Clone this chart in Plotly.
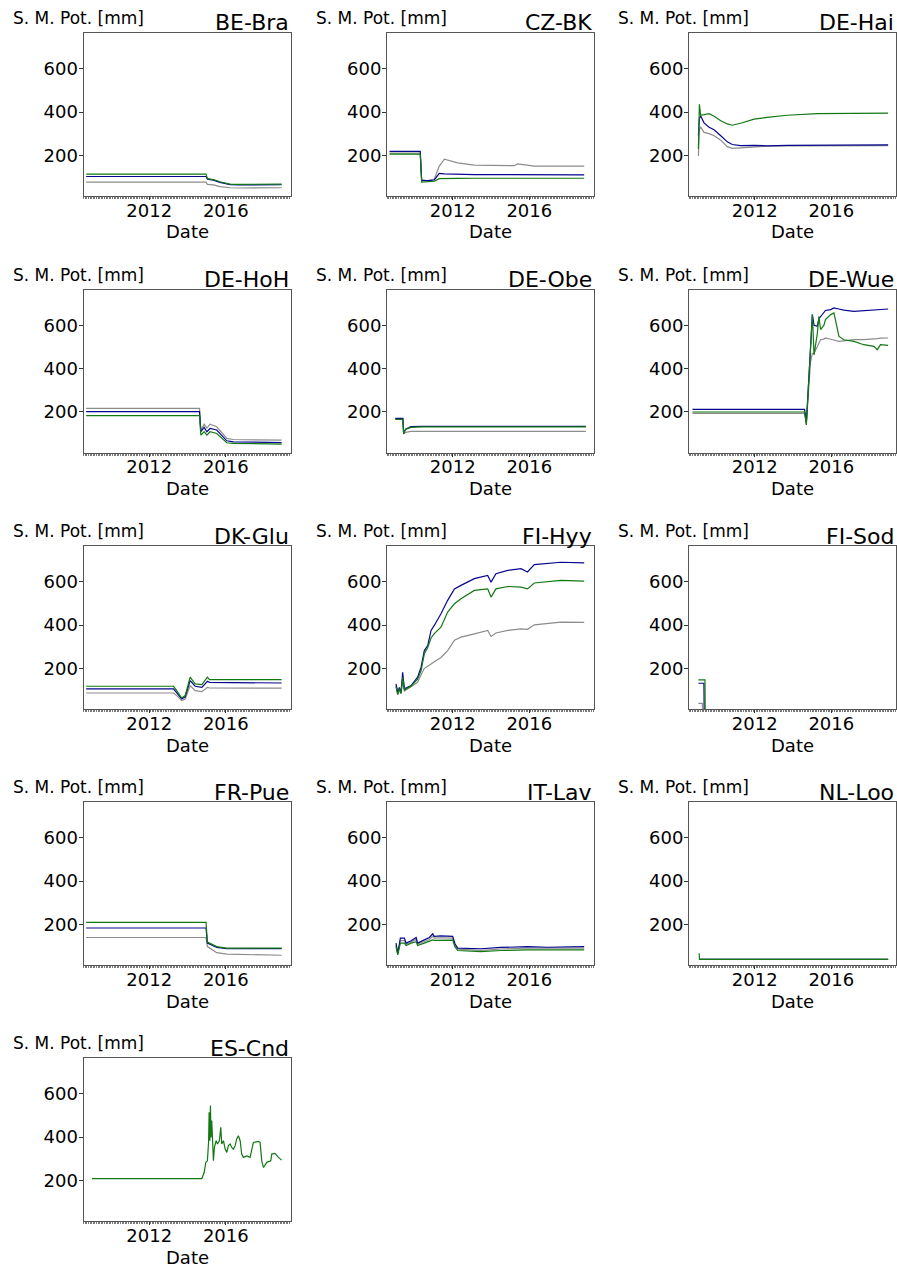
import plotly.graph_objects as go

# ---------------- data ----------------
BE_BRA_DATES = ["2008-09-16", "2014-12-20", "2015-01-15", "2015-05-10", "2015-09-12",
                "2016-03-25", "2016-10-01", "2018-12-01"]
BE_BRA_GREY = [76, 76, 66, 63, 55, 50, 49, 50]
BE_BRA_BLUE = [102, 102, 90, 85, 75, 64, 63, 64]
BE_BRA_GREEN = [113, 113, 92, 88, 78, 67, 66, 67]

CZ_BK_DATES = ["2008-09-13", "2010-04-22", "2010-05-19", "2010-09-12", "2011-01-15",
               "2011-04-20", "2011-07-26", "2012-04-05", "2013-02-17", "2014-07-08",
               "2015-03-22", "2015-05-22", "2015-09-27", "2016-04-05", "2018-11-13"]
CZ_BK_GREY = [210, 210, 88, 82, 90, 150, 182, 165, 155, 152, 152, 160, 155, 150, 150]
CZ_BK_BLUE = [218, 218, 84, 83, 86, 116, 114, 112, 111, 111, 111, 113, 112, 110, 110]
CZ_BK_GREEN = [205, 205, 76, 78, 80, 92, 93, 93, 94, 94, 94, 94, 94, 94, 94]

DE_HAI_DATES = ["2009-01-22", "2009-02-10", "2009-03-07", "2009-05-10", "2009-08-14",
                "2009-11-17", "2010-03-25", "2010-07-27", "2010-10-30", "2011-04-08",
                "2011-12-20", "2012-08-28", "2013-09-12", "2015-04-08", "2018-12-20"]
DE_HAI_GREY = [197, 320, 330, 306, 300, 290, 270, 240, 232, 235, 240, 242, 244, 245, 245]
DE_HAI_BLUE = [290, 370, 382, 350, 330, 318, 290, 262, 250, 245, 246, 244, 246, 247, 248]
DE_HAI_GREEN = [229, 436, 385, 388, 392, 380, 360, 345, 339, 348, 367, 375, 385, 393, 395]

DE_HOH_DATES = ["2008-09-16", "2014-08-18", "2014-09-12", "2014-11-14", "2015-01-05",
                "2015-03-07", "2015-07-12", "2016-01-20", "2016-05-26", "2018-12-01"]
DE_HOH_GREY = [216, 216, 116, 143, 125, 143, 131, 77, 72, 69]
DE_HOH_BLUE = [201, 201, 108, 128, 108, 123, 116, 66, 61, 58]
DE_HOH_GREEN = [182, 182, 92, 108, 92, 108, 100, 57, 54, 51]

DE_OBE_DATES = ["2009-01-01", "2009-05-25", "2009-06-10", "2009-07-15", "2009-10-25",
                "2010-06-01", "2018-12-15"]
DE_OBE_GREY = [168, 168, 100, 105, 110, 110, 110]
DE_OBE_BLUE = [170, 170, 100, 120, 132, 133, 133]
DE_OBE_GREEN = [165, 165, 98, 118, 128, 130, 130]

DE_WUE_DATES = ["2008-10-01", "2014-08-10", "2014-09-12", "2014-10-30", "2014-12-01",
                "2015-01-05", "2015-02-06", "2015-04-08", "2015-05-10", "2015-06-10",
                "2015-08-14", "2015-09-12", "2015-12-20", "2016-02-20", "2016-05-26",
                "2016-08-28", "2017-03-07", "2017-09-12", "2018-03-25", "2018-05-26",
                "2018-07-27", "2018-12-20"]
DE_WUE_GREY = [193, 193, 145, 320, 430, 470, 471, 500, 520, 533, 536, 541, 535, 530,
               525, 528, 533, 533, 535, 538, 540, 541]
DE_WUE_BLUE = [211, 211, 150, 363, 500, 649, 600, 595, 630, 640, 664, 668, 672, 680,
               675, 670, 664, 668, 670, 672, 672, 675]
DE_WUE_GREEN = [199, 199, 139, 330, 480, 649, 463, 560, 641, 580, 600, 626, 649, 657,
                548, 533, 525, 510, 502, 487, 510, 507]

DK_GLU_DATES = ["2008-09-16", "2013-04-08", "2013-06-10", "2013-09-12", "2013-11-17",
                "2014-02-20", "2014-05-26", "2014-10-01", "2015-01-15", "2015-02-24",
                "2018-12-01"]
DK_GLU_GREY = [86, 86, 74, 51, 58, 120, 97, 92, 112, 109, 108]
DK_GLU_BLUE = [105, 105, 86, 58, 68, 143, 117, 112, 140, 135, 132]
DK_GLU_GREEN = [117, 117, 97, 63, 74, 159, 128, 125, 159, 148, 148]

FI_HYY_DATES = ["2009-01-15", "2009-02-17", "2009-03-20", "2009-04-20", "2009-05-22",
                "2009-06-24", "2009-10-30", "2010-03-03", "2010-05-08", "2010-07-09",
                "2010-09-12", "2010-11-14", "2011-01-15", "2011-05-22", "2011-09-27",
                "2012-02-03", "2012-06-07", "2013-02-17", "2013-10-30", "2014-01-01",
                "2014-04-05", "2014-11-14", "2015-07-26", "2015-11-28", "2016-04-05",
                "2017-08-25", "2018-11-13"]
FI_HYY_GREY = [120, 77, 100, 82, 140, 95, 115, 135, 170, 200, 210, 222, 230, 250, 282,
               330, 344, 359, 375, 347, 363, 375, 382, 380, 401, 413, 412]
FI_HYY_BLUE = [128, 89, 112, 89, 182, 105, 120, 159, 205, 282, 305, 375, 398, 452, 514,
               567, 583, 614, 629, 598, 637, 652, 660, 645, 679, 690, 687]
FI_HYY_GREEN = [115, 80, 105, 85, 160, 100, 118, 150, 190, 267, 296, 340, 360, 390, 460,
                498, 521, 560, 567, 529, 567, 578, 575, 567, 594, 606, 603]

FI_SOD_DATES = ["2009-01-22", "2009-04-08", "2009-04-12", "2009-05-08", "2009-05-12",
                "2009-05-28", "2009-06-01", "2018-12-20"]
FI_SOD_GREY = [38, 38, 0, 0, 0, 0, 0, 0]
FI_SOD_BLUE = [131, 131, 131, 131, 0, 0, 0, 0]
FI_SOD_GREEN = [147, 147, 147, 147, 147, 147, 0, 0]

FR_PUE_DATES = ["2008-09-16", "2014-12-20", "2015-01-15", "2015-07-12", "2016-01-20",
                "2018-12-01"]
FR_PUE_GREY = [139, 139, 97, 69, 62, 57]
FR_PUE_BLUE = [183, 183, 113, 93, 87, 88]
FR_PUE_GREEN = [209, 209, 118, 97, 90, 90]

IT_LAV_DATES = ["2009-01-15", "2009-02-17", "2009-04-08", "2009-06-24", "2009-07-26",
                "2009-10-30", "2010-02-03", "2010-03-03", "2010-07-09", "2010-10-12",
                "2010-12-16", "2011-01-15", "2011-05-22", "2012-01-01", "2012-02-14",
                "2012-04-05", "2013-06-24", "2014-07-08", "2015-11-28", "2016-12-16",
                "2018-11-13"]
IT_LAV_GREY = [105, 62, 125, 125, 108, 118, 130, 108, 120, 130, 145, 136, 138, 136, 100,
               85, 80, 86, 90, 90, 90]
IT_LAV_BLUE = [113, 66, 136, 136, 113, 124, 139, 113, 128, 139, 156, 144, 147, 144, 110,
               90, 87, 93, 97, 94, 97]
IT_LAV_GREEN = [97, 59, 113, 113, 102, 113, 120, 102, 113, 120, 128, 126, 127, 127, 95,
                79, 74, 79, 82, 82, 82]

NL_LOO_DATES = ["2009-02-06", "2009-02-12", "2018-12-20"]
NL_LOO_GREY = [38, 38, 38]
NL_LOO_BLUE = [38, 38, 38]
NL_LOO_GREEN = [66, 38, 38]

ES_CND_DATES = ["2009-01-05", "2014-10-01", "2014-11-14", "2014-12-16", "2015-01-15",
                "2015-02-06", "2015-02-17", "2015-03-03", "2015-03-14", "2015-03-25",
                "2015-04-08", "2015-04-20", "2015-05-10", "2015-05-29", "2015-07-01",
                "2015-07-26", "2015-09-01", "2015-09-27", "2015-10-16", "2015-11-17",
                "2015-12-20", "2016-01-20", "2016-02-20", "2016-03-25", "2016-04-23",
                "2016-05-26", "2016-06-28", "2016-07-27", "2016-08-28", "2016-10-01",
                "2016-10-30", "2016-12-01", "2017-02-06", "2017-04-08", "2017-06-10",
                "2017-09-12", "2017-10-16", "2017-11-17", "2017-12-20", "2018-02-20",
                "2018-05-08", "2018-05-26", "2018-07-27", "2018-10-01", "2018-12-01"]
ES_CND_GREEN = [208, 208, 236, 283, 290, 375, 514, 383, 545, 398, 476, 352, 290, 352,
                383, 368, 383, 445, 368, 383, 344, 329, 360, 368, 352, 344, 360, 391,
                406, 383, 321, 306, 313, 306, 375, 380, 375, 290, 259, 283, 290, 321,
                324, 306, 293]

SITES = [
    ("BE-Bra", BE_BRA_DATES, BE_BRA_GREY, BE_BRA_BLUE, BE_BRA_GREEN),
    ("CZ-BK", CZ_BK_DATES, CZ_BK_GREY, CZ_BK_BLUE, CZ_BK_GREEN),
    ("DE-Hai", DE_HAI_DATES, DE_HAI_GREY, DE_HAI_BLUE, DE_HAI_GREEN),
    ("DE-HoH", DE_HOH_DATES, DE_HOH_GREY, DE_HOH_BLUE, DE_HOH_GREEN),
    ("DE-Obe", DE_OBE_DATES, DE_OBE_GREY, DE_OBE_BLUE, DE_OBE_GREEN),
    ("DE-Wue", DE_WUE_DATES, DE_WUE_GREY, DE_WUE_BLUE, DE_WUE_GREEN),
    ("DK-Glu", DK_GLU_DATES, DK_GLU_GREY, DK_GLU_BLUE, DK_GLU_GREEN),
    ("FI-Hyy", FI_HYY_DATES, FI_HYY_GREY, FI_HYY_BLUE, FI_HYY_GREEN),
    ("FI-Sod", FI_SOD_DATES, FI_SOD_GREY, FI_SOD_BLUE, FI_SOD_GREEN),
    ("FR-Pue", FR_PUE_DATES, FR_PUE_GREY, FR_PUE_BLUE, FR_PUE_GREEN),
    ("IT-Lav", IT_LAV_DATES, IT_LAV_GREY, IT_LAV_BLUE, IT_LAV_GREEN),
    ("NL-Loo", NL_LOO_DATES, NL_LOO_GREY, NL_LOO_BLUE, NL_LOO_GREEN),
    ("ES-Cnd", ES_CND_DATES, None, None, ES_CND_GREEN),
]

Y_TICKS = [200, 400, 600]
X_TICKS = ["2012-01-01", "2016-01-01"]
X_TICK_TEXT = ["2012", "2016"]
X_RANGE = ["2008-07-27", "2019-05-19"]
Y_RANGE = [12, 765]

# ---------------- geometry (pixels) ----------------
W, H = 897, 1268
COL_LEFT = [83.5, 387, 689]
ROW_TOP = [33, 289.5, 546, 802, 1058]
BOX_W, BOX_H = 207, 163

FONT = "DejaVu Sans"
COLORS = {"grey": "#8c8c8c", "blue": "#06068f", "green": "#127812"}

fig = go.Figure()
layout = {}
annotations = []

for i, (name, dates, grey, blue, green) in enumerate(SITES):
    n = i + 1
    row, col = divmod(i, 3)
    left, top = COL_LEFT[col], ROW_TOP[row]
    xa = "x" if n == 1 else f"x{n}"
    ya = "y" if n == 1 else f"y{n}"

    for key, vals in (("grey", grey), ("blue", blue), ("green", green)):
        if vals is None:
            continue
        fig.add_trace(
            go.Scatter(
                x=dates,
                y=vals,
                mode="lines",
                line=dict(color=COLORS[key], width=1.2),
                xaxis=xa,
                yaxis=ya,
                showlegend=False,
            )
        )

    layout[f"xaxis{n}"] = dict(
        domain=[left / W, (left + BOX_W) / W],
        anchor=ya,
        type="date",
        range=X_RANGE,
        tickmode="array",
        tickvals=X_TICKS,
        ticktext=X_TICK_TEXT,
        ticks="outside",
        ticklen=3,
        tickcolor="#333",
        ticklabelstandoff=-5,
        tickfont=dict(size=18, color="black", family=FONT),
        showline=True,
        mirror=True,
        linecolor="#555",
        linewidth=1,
        showgrid=False,
        zeroline=False,
        minor=dict(ticks="outside", ticklen=2, dtick="M1", tick0="2008-01-01",
                   tickcolor="#777", tickwidth=0.6, showgrid=False),
    )
    layout[f"yaxis{n}"] = dict(
        domain=[1 - (top + BOX_H) / H, 1 - top / H],
        anchor=xa,
        range=Y_RANGE,
        tickmode="array",
        tickvals=Y_TICKS,
        ticks="outside",
        ticklen=4,
        tickcolor="#333",
        ticklabelstandoff=-3,
        tickfont=dict(size=18, color="black", family=FONT),
        showline=True,
        mirror=True,
        linecolor="#555",
        linewidth=1,
        showgrid=False,
        zeroline=False,
    )

    # y label on top-left, site name on top-right, "Date" under the axis
    annotations.append(dict(
        text="S. M. Pot. [mm]", xref="paper", yref="paper",
        x=(left - 73) / W, y=1 - (top - 15) / H,
        xanchor="left", yanchor="middle", showarrow=False,
        font=dict(size=17, color="black", family=FONT),
    ))
    annotations.append(dict(
        text=name, xref="paper", yref="paper",
        x=(left + BOX_W) / W, y=1 - (top - 10) / H,
        xanchor="right", yanchor="middle", showarrow=False,
        font=dict(size=22, color="black", family=FONT),
    ))
    annotations.append(dict(
        text="Date", xref="paper", yref="paper",
        x=(left + BOX_W / 2) / W, y=1 - (top + BOX_H + 36) / H,
        xanchor="center", yanchor="middle", showarrow=False,
        font=dict(size=18, color="black", family=FONT),
    ))

fig.update_layout(
    **layout,
    annotations=annotations,
    width=W,
    height=H,
    margin=dict(l=0, r=0, t=0, b=0),
    paper_bgcolor="white",
    plot_bgcolor="white",
    font=dict(family=FONT, color="black"),
    showlegend=False,
)

# the page body has a default 8px margin; drop it so the figure fills the window
fig.write_html(
    "out.html",
    config={"displayModeBar": False},
    post_script="document.body.style.margin='0';",
)
